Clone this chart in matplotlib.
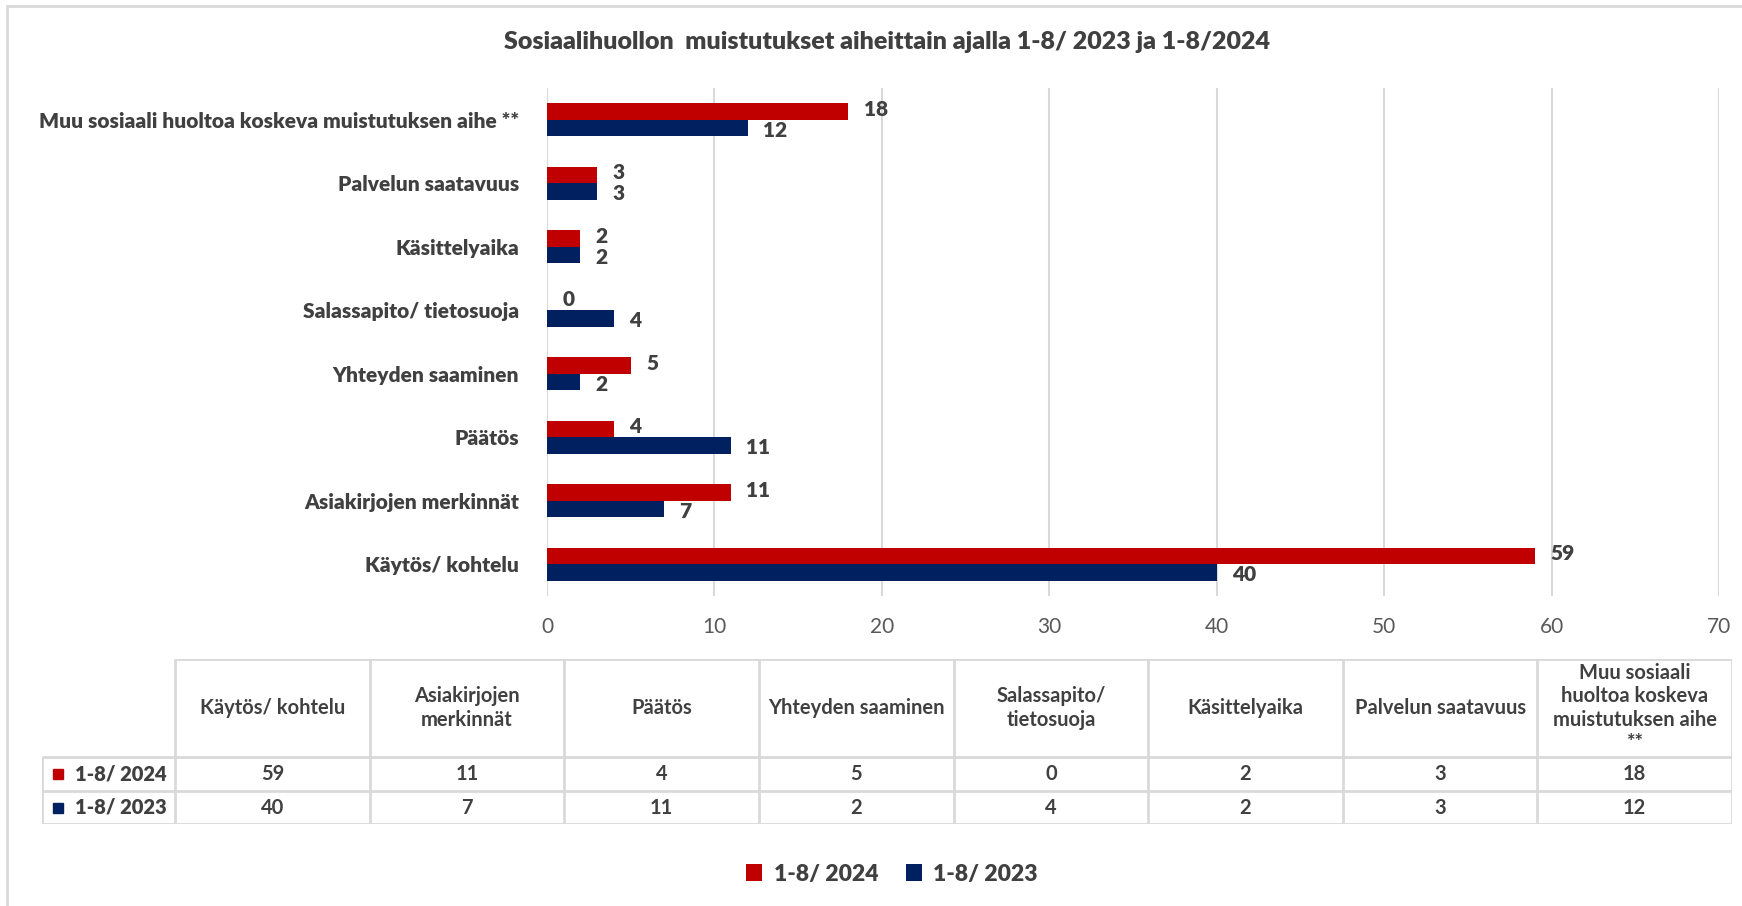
import matplotlib.pyplot as plt
import numpy as np
from matplotlib.patches import Patch, Rectangle

plt.rcParams["font.family"] = ["Lato", "DejaVu Sans"]

categories = [
    "Käytös/ kohtelu",
    "Asiakirjojen merkinnät",
    "Päätös",
    "Yhteyden saaminen",
    "Salassapito/ tietosuoja",
    "Käsittelyaika",
    "Palvelun saatavuus",
    "Muu sosiaali huoltoa koskeva muistutuksen aihe **",
]
table_headers = [
    "Käytös/ kohtelu",
    "Asiakirjojen\nmerkinnät",
    "Päätös",
    "Yhteyden saaminen",
    "Salassapito/\ntietosuoja",
    "Käsittelyaika",
    "Palvelun saatavuus",
    "Muu sosiaali\nhuoltoa koskeva\nmuistutuksen aihe\n**",
]
series_names = ["1-8/ 2024", "1-8/ 2023"]
values_2024 = [59, 11, 4, 5, 0, 2, 3, 18]
values_2023 = [40, 7, 11, 2, 4, 2, 3, 12]
x_ticks = [0, 10, 20, 30, 40, 50, 60, 70]

RED = "#C00000"
NAVY = "#002060"
TEXT = "#404040"
GRID = "#D9D9D9"
BOLD = 800

W, H = 1742, 906
fig = plt.figure(figsize=(W / 100, H / 100), dpi=100)

# outer chart border
fig.patches.append(Rectangle((7 / W, -0.02), 1.1, 1 - 6 / H + 0.02, transform=fig.transFigure,
                             fill=False, edgecolor=GRID, linewidth=2))

fig.text(887 / W, 1 - 42 / H, "Sosiaalihuollon  muistutukset aiheittain ajalla 1-8/ 2023 ja 1-8/2024",
         ha="center", va="center", fontsize=18, fontweight=BOLD, color=TEXT)

# bar chart
ax = fig.add_axes([547 / W, 1 - 596 / H, (1719 - 547) / W, (596 - 88) / H])
y = np.arange(len(categories))
h = 0.26
bars_24 = ax.barh(y + h / 2, values_2024, height=h, color=RED)
bars_23 = ax.barh(y - h / 2, values_2023, height=h, color=NAVY)
for bars, vals, dy in ((bars_24, values_2024, 1.5), (bars_23, values_2023, -1.5)):
    for b, v in zip(bars, vals):
        ax.annotate(str(v), (b.get_width(), b.get_y() + b.get_height() / 2),
                    xytext=(11, dy), textcoords="offset points", ha="left", va="center",
                    fontsize=15, fontweight=BOLD, color=TEXT)

ax.set_xlim(0, 70)
ax.set_ylim(-0.5, len(categories) - 0.5)
ax.set_xticks(x_ticks)
ax.set_yticks(y)
ax.set_yticklabels(categories, fontsize=15, fontweight=BOLD, color=TEXT)
ax.tick_params(axis="x", length=0, pad=15, labelsize=15, labelcolor="#595959")
ax.tick_params(axis="y", length=0, pad=20)
ax.grid(axis="x", color=GRID, linewidth=1.5)
ax.set_axisbelow(True)
for s in ax.spines.values():
    s.set_visible(False)

# data table below the chart
tab = fig.add_axes([42 / W, 1 - 824 / H, (1732 - 42) / W, (824 - 659) / H])
tab.set_xlim(42, 1732)
tab.set_ylim(824, 659)
tab.axis("off")
label_right = 175
col_w = (1732 - label_right) / len(table_headers)
col_edges = [label_right + i * col_w for i in range(len(table_headers) + 1)]
row_edges = [659, 757, 791, 824]

tab.hlines(row_edges[0], label_right, 1732, color=GRID, linewidth=2)
tab.hlines(row_edges[1:], 42, 1732, color=GRID, linewidth=2)
tab.vlines(col_edges, row_edges[0], row_edges[-1], color=GRID, linewidth=2)
tab.vlines(42, row_edges[1], row_edges[-1], color=GRID, linewidth=2)

for i, head in enumerate(table_headers):
    cx = (col_edges[i] + col_edges[i + 1]) / 2
    tab.text(cx, (row_edges[0] + row_edges[1]) / 2, head, ha="center", va="center",
             fontsize=14.5, fontweight=700, color=TEXT, linespacing=1.2)
    for r, vals in enumerate((values_2024, values_2023)):
        tab.text(cx, (row_edges[r + 1] + row_edges[r + 2]) / 2, str(vals[i]),
                 ha="center", va="center", fontsize=14.5, fontweight=700, color=TEXT)

for r, (name, col) in enumerate(zip(series_names, (RED, NAVY))):
    cy = (row_edges[r + 1] + row_edges[r + 2]) / 2
    tab.plot(58, cy, marker="s", markersize=7, color=col)
    tab.text(75, cy, name, ha="left", va="center", fontsize=14.5, fontweight=BOLD, color=TEXT)

handles = [Patch(facecolor=RED), Patch(facecolor=NAVY)]
fig.legend(handles, series_names, loc="center", bbox_to_anchor=(892 / W, 1 - 874 / H), ncol=2,
           frameon=False, handlelength=0.7, handleheight=0.7, handletextpad=0.5, columnspacing=1.2,
           prop={"family": ["Lato"], "size": 16.5, "weight": BOLD}, labelcolor=TEXT)

fig.savefig("out.png", dpi=100)
